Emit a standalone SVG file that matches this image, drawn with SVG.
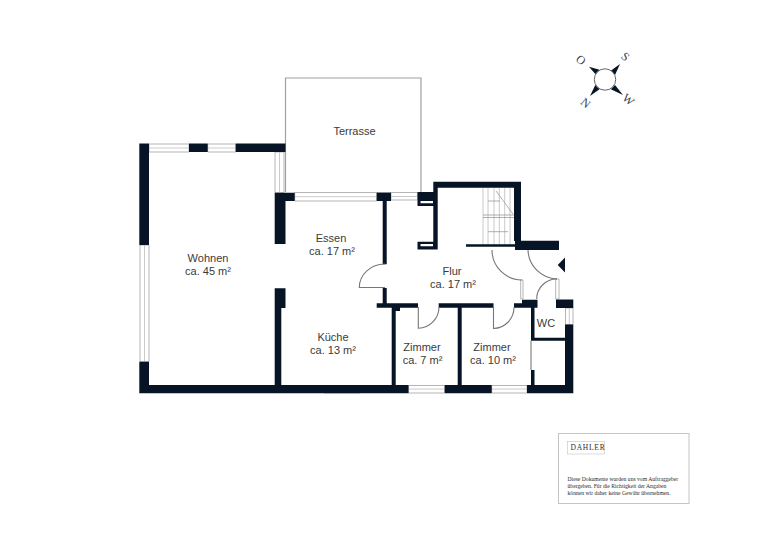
<svg xmlns="http://www.w3.org/2000/svg" width="768" height="560" viewBox="0 0 768 560">
<style>
.w{fill:#071426}
.g{fill:#fff;stroke:#b5b5b5;stroke-width:1}
.l{fill:none;stroke:#a0a0a0;stroke-width:1.200}
.d{fill:none;stroke:#777;stroke-width:1.100}
.s{fill:none;stroke:#c4c4c4;stroke-width:.9}
.a{fill:none;stroke:#9a9a9a;stroke-width:.8}
.t{font-family:"Liberation Sans",Arial,sans-serif;font-size:11px;fill:#3a3a3a;text-anchor:middle}
.f{font-family:"Liberation Serif","Times New Roman",serif;fill:#2c2c2c}
.c{font-family:"Liberation Serif","Times New Roman",serif;font-size:12px;fill:#444;text-anchor:middle}
</style>
<rect width="768" height="560" fill="#fff"/>
<g id="terrace"><path class="l" d="M285.500 192V78H421V192"/></g>
<g id="windows">
<path class="g" d="M149 144H189V152H149ZM207.700 144H235.700V152H207.700ZM275 152H284V192.700H275ZM140 245H149V361.700H140ZM294.700 192.500H376.700V201H294.700ZM391 192.500H417.500V200H391ZM555.700 279H559V299H555.700ZM520.700 280H523V299H520.700ZM565.500 308H573V324.500H565.500ZM324.300 385.500H359.700V393H324.300ZM408.500 385.500H444.700V393H408.500ZM491.700 385.500H527V393H491.700Z"/>
<path class="s" d="M149 148H189M207.700 148H235.700M279.500 152V192.700M144.500 245V361.700M294.700 196.700H376.700M391 196.500H417.500M569.300 308V324.500M324.300 389H359.700M408.500 389H444.700M491.700 389H527"/>
</g>
<g id="stairs">
<path class="s" d="M483 188V245M488 188V245M494 188V245M499.300 188V245M504.700 188V245M510 188V245"/>
<path class="a" d="M483 215H514M483 217.500H515M488 201H500M496 191L513 214M488 231.700H508"/>
</g>
<g id="walls">
<path class="w" d="M139.300 143.500H149V245H139.300ZM189 143.500H207.700V152H189ZM235.700 143.500H285.500V152H235.700ZM274.700 192.700H294.700V201H285.500V244H274.700ZM376.700 192.500H391V201H376.700ZM382.700 201H386.700V264.300H382.700ZM274.700 288.300H285.500V308H281.300V385H274.700ZM139.300 361.700H149V385H408.500V393.300H139.300ZM444.700 385H491.700V393.300H444.700ZM527 385H565V324.500H573.300V393.300H527ZM417.500 192H437.700V206H417.500ZM417.500 241.700H437.700V249.500H417.500ZM433.300 181.700H521V240.700H559V250H515V241H514V187.700H437.700V241.700H433.300ZM466 244.300H515V246.700H466ZM376.700 303.300H418V307.700H376.700ZM438.700 303.300H493.500V307.700H438.700ZM514 303.300H522V299.800H537.500V307.700H514ZM556 299.500H573.300V308H556ZM382.700 288H386.700V304H382.700ZM391.700 307H395.700V386H391.700ZM395 307H400V311H395ZM457.700 307H461.700V386H457.700ZM531 307H534.500V337.700H565V340.700H531ZM531 370H534.500V386H531Z"/>
<path d="M420.500 201H433V203.300H420.500ZM420.500 244H433V246.300H420.500Z" fill="#fff"/>
</g>
<g id="connectors">
<path class="d" d="M385 264A25.500 23.500 0 0 0 359.300 287.500H385"/>
<path class="d" d="M492 250A30 30 0 0 0 522 280"/>
<path class="d" d="M528 250A30 30 0 0 0 557 279"/>
<path class="d" d="M536.700 299A20 20 0 0 1 557 279"/>
<path class="d" d="M418.300 307V328.300A21 21 0 0 0 439 307"/>
<path class="d" d="M493.500 307V328.500A21 21 0 0 0 514 307"/>
<path class="d" d="M531 340.700V370" stroke-width=".8"/>
</g>
<g id="entrance"><path class="w" d="M557.700 265L565 257.500V272.500Z"/></g>
<g id="compass">
<path class="w" d="M589 66.700L599.500 69.700L595.300 73.900ZM620 64L615 75L610.800 70.800ZM590 96L595.300 85L599.500 89.200ZM623 95L610.800 89.200L615 85Z"/>
<circle cx="605" cy="79.500" r="10.700" fill="#fff" stroke="#666" stroke-width="1"/>
<text class="c" transform="translate(581 60) rotate(40)" y="4">O</text>
<text class="c" transform="translate(625.300 56.500) rotate(40)" y="4">S</text>
<text class="c" transform="translate(585.700 103) rotate(40)" y="4">N</text>
<text class="c" transform="translate(628.300 99.500) rotate(40)" y="4">W</text>
</g>
<g id="labels">
<text class="t" x="354.500" y="135">Terrasse</text>
<text class="t" x="331" y="241.500">Essen</text><text class="t" x="332" y="255">ca. 17 m²</text>
<text class="t" x="208" y="261.500">Wohnen</text><text class="t" x="208" y="275">ca. 45 m²</text>
<text class="t" x="333" y="340.500">Küche</text><text class="t" x="333" y="353.500">ca. 13 m²</text>
<text class="t" x="452" y="274.500">Flur</text><text class="t" x="453" y="287.500">ca. 17 m²</text>
<text class="t" x="422" y="350.500">Zimmer</text><text class="t" x="422.500" y="363.500">ca. 7 m²</text>
<text class="t" x="492" y="350.500">Zimmer</text><text class="t" x="493" y="363.500">ca. 10 m²</text>
<text class="t" x="546" y="326.500">WC</text>
</g>
<g id="legend">
<rect x="558.500" y="433.500" width="130.500" height="70" fill="#fff" stroke="#c4c4c4"/>
<rect x="567.500" y="441.500" width="37" height="12.500" fill="#fff" stroke="#ccc" stroke-width=".7"/>
<text class="f" x="570.500" y="450" font-size="7.500" letter-spacing=".75">DAHLER</text>
<text class="f" x="567.500" y="481" font-size="5.650">Diese Dokumente wurden uns vom Auftraggeber</text>
<text class="f" x="567.500" y="488" font-size="5.650">übergeben. Für die Richtigkeit der Angaben</text>
<text class="f" x="567.500" y="495" font-size="5.650">können wir daher keine Gewähr übernehmen.</text>
</g>
</svg>
